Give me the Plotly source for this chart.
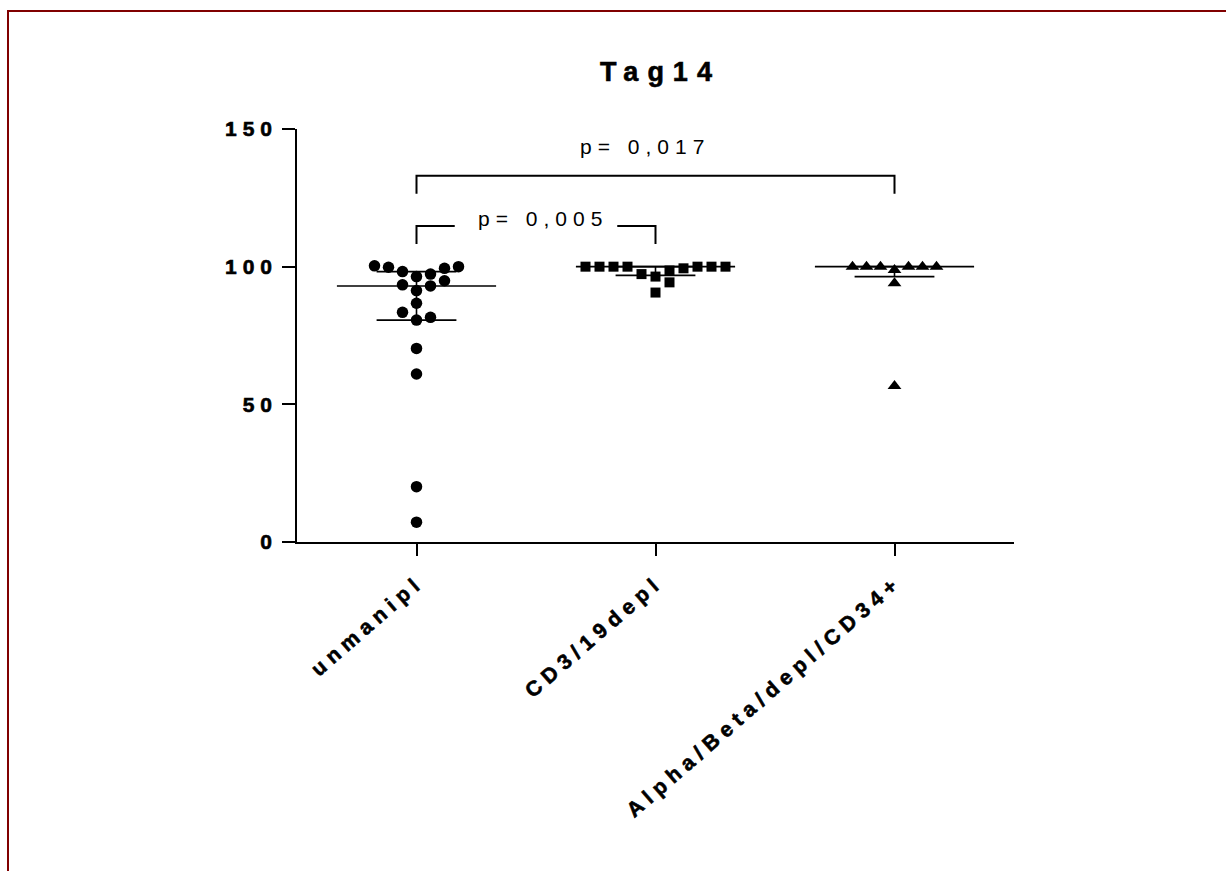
import numpy as np
import plotly.graph_objects as go

# ---------------- data ----------------
categories = ["unmanipl", "CD3/19depl", "Alpha/Beta/depl/CD34+"]
unmanipl = [100.0, 99.4, 97.3, 96.4, 98.2, 99.8, 100.3, 93.4, 91.3, 93.0,
            94.9, 86.7, 83.4, 80.6, 81.6, 70.3, 61.0, 20.1, 7.2]
cd3_19depl = [100.0, 100.0, 100.0, 99.4, 97.3, 96.4, 94.3, 90.6, 98.6,
              100.0, 100.0, 100.0, 100.0]
alpha_beta = [100.0, 100.0, 100.0, 100.0, 100.0, 100.0, 98.8, 94.0, 56.7]
comparisons = [(0, 1), (0, 2)]
p_labels = ["p= 0,005", "p= 0,017"]
y_ticks = [0, 50, 100, 150]
title_text = "Tag14"

groups = [unmanipl, cd3_19depl, alpha_beta]
symbols = ["circle", "square", "triangle-up"]
sizes = [11.5, 10, 12]

FONT = "Liberation Sans, Arial, sans-serif"

# ---------------- layout geometry ----------------
W, H = 1226, 871
ML, MR, MT, MB = 297, 212, 129, 329
PLOT_W = W - ML - MR
PLOT_H = H - MT - MB
X_RANGE = [-0.5, 2.5]
Y_RANGE = [0, 150]
STEP_X = 14 / (PLOT_W / 3.0)      # horizontal spacing of swarm columns (data units)
DY_MIN = 4.0                      # vertical overlap threshold (data units)


def swarm_offsets(values, step_x, dy_min):
    vals = np.asarray(values, dtype=float)
    order = np.argsort(vals, kind="stable")
    seq = [0] + [s * k for k in range(1, 60) for s in (1, -1)]
    placed = []
    cols = np.zeros(len(vals))
    for i in order:
        v = vals[i]
        for k in seq:
            if all(not (c == k and abs(pv - v) < dy_min) for c, pv in placed):
                break
        placed.append((k, v))
        cols[i] = k
    return cols * step_x


fig = go.Figure()

# median + interquartile range
for gi, vals in enumerate(groups):
    q1, med, q3 = np.percentile(vals, [25, 50, 75], method="weibull")
    fig.add_trace(go.Scatter(x=[gi - 0.333, gi + 0.333], y=[med, med], mode="lines",
                             line=dict(color="black", width=1.6), showlegend=False,
                             hoverinfo="skip"))
    fig.add_trace(go.Scatter(x=[gi - 0.167, gi + 0.167, None, gi - 0.167, gi + 0.167, None, gi, gi],
                             y=[q1, q1, None, q3, q3, None, q1, q3], mode="lines",
                             line=dict(color="black", width=1.6), showlegend=False,
                             hoverinfo="skip"))

# points
for gi, vals in enumerate(groups):
    offs = swarm_offsets(vals, STEP_X, DY_MIN)
    fig.add_trace(go.Scatter(x=gi + offs, y=vals, mode="markers",
                             marker=dict(symbol=symbols[gi], size=sizes[gi], color="black",
                                         line=dict(width=0)),
                             showlegend=False, name=categories[gi]))

# significance brackets
bracket_tops = [114.8, 133.0]
bracket_drop = [6.6, 6.5]
label_y = [117.5, 143.8]
label_dx = [0.03, -0.045]         # small horizontal nudge of each p-value label
label_gap = [0.34, 0.0]           # half-width of the gap left for an inline label
shapes = []
annotations = []
for (a, b), top, drop, lab, ly, dx, gap in zip(comparisons, bracket_tops, bracket_drop,
                                               p_labels, label_y, label_dx, label_gap):
    mid = (a + b) / 2
    if gap > 0:
        paths = [f"M {a},{top - drop} L {a},{top} L {mid - gap},{top}",
                 f"M {mid + gap},{top} L {b},{top} L {b},{top - drop}"]
    else:
        paths = [f"M {a},{top - drop} L {a},{top} L {b},{top} L {b},{top - drop}"]
    for p in paths:
        shapes.append(dict(type="path", xref="x", yref="y", path=p,
                           line=dict(color="black", width=2)))
    annotations.append(dict(x=mid + dx, y=ly, xref="x", yref="y", text=lab,
                            showarrow=False, yanchor="middle",
                            font=dict(family=FONT, size=21, color="black")))

# dark red frame (partly outside the picture)
def px_to_paper_x(px):
    return (px - ML) / PLOT_W


def px_to_paper_y(py):
    return 1 - (py - MT) / PLOT_H

shapes.append(dict(type="rect", xref="paper", yref="paper",
                   x0=px_to_paper_x(8), x1=px_to_paper_x(1300),
                   y0=px_to_paper_y(950), y1=px_to_paper_y(11),
                   line=dict(color="#800000", width=2), fillcolor="rgba(0,0,0,0)",
                   layer="below"))

fig.update_layout(
    width=W, height=H,
    margin=dict(l=ML, r=MR, t=MT, b=MB, autoexpand=False),
    paper_bgcolor="white", plot_bgcolor="white",
    title=dict(text=title_text, x=(ML + PLOT_W / 2) / W + 0.004, xanchor="center",
               y=1 - 72 / H, yanchor="middle", yref="container",
               font=dict(family=FONT, size=27, color="black", weight="bold")),
    xaxis=dict(range=X_RANGE, tickmode="array", tickvals=[0, 1, 2], ticktext=categories,
               showline=True, linecolor="black", linewidth=1.6, ticks="outside",
               ticklen=12, tickwidth=1.6, tickcolor="black", tickangle=-41,
               ticklabelstandoff=6, ticklabelshift=2,
               showgrid=False, zeroline=False,
               tickfont=dict(family=FONT, size=21, color="black", weight="bold")),
    yaxis=dict(range=Y_RANGE, tickmode="array", tickvals=y_ticks,
               ticktext=[str(t) for t in y_ticks],
               showline=True, linecolor="black", linewidth=1.6, ticks="outside",
               ticklen=13, tickwidth=1.6, tickcolor="black",
               showgrid=False, zeroline=False,
               tickfont=dict(family=FONT, size=21, color="black", weight="bold")),
    shapes=shapes, annotations=annotations,
)

post = """
var st = document.createElement('style');
st.textContent = '.gtitle{letter-spacing:9px !important; stroke:#000; stroke-width:0.6px}' +
  ' .xtick text{letter-spacing:6px !important; stroke:#000; stroke-width:0.6px}' +
  ' .ytick text{letter-spacing:6px !important; stroke:#000; stroke-width:0.6px}' +
  ' .annotation-text{letter-spacing:6px !important}';
document.head.appendChild(st);
"""

fig.write_html("out.html", post_script=post)
